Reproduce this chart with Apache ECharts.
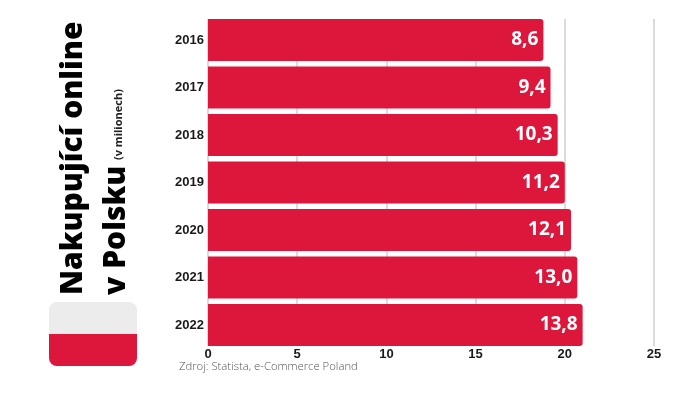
<!DOCTYPE html>
<html>
<head>
<meta charset="utf-8">
<style>html,body{margin:0;padding:0;background:#fff}#c{width:700px;height:394px}</style>
<script src="https://cdn.jsdelivr.net/npm/echarts@6/dist/echarts.min.js"></script>
</head>
<body>
<div id="c"></div>
<script>
const years = ['2016','2017','2018','2019','2020','2021','2022'];
const barLengths = [18.8,19.2,19.6,20.0,20.35,20.7,21.0];
const valueLabels = ['8,6','9,4','10,3','11,2','12,1','13,0','13,8'];
const titleLine1 = 'Nakupující online';
const titleLine2 = 'v Polsku';
const titleNote = '(v milionech)';
const sourceText = 'Zdroj: Statista, e-Commerce Poland';

const chart = echarts.init(document.getElementById('c'), null, {renderer:'canvas'});
const RED = '#DD163C';
chart.setOption({
  animation:false,
  backgroundColor:'#fff',
  grid:[
    {left:208,width:446,top:19,height:327},
    {left:208,width:446,top:16.25,height:332.5}
  ],
  xAxis:[
    {gridIndex:0,type:'value',min:0,max:25,interval:5,
     axisLine:{show:false},axisTick:{show:false},
     splitLine:{show:true,lineStyle:{color:'#cfcfcf',width:1.5}},
     axisLabel:{margin:2,fontFamily:'Liberation Sans',fontWeight:'bold',fontSize:13,color:'#1a1a1a'}},
    {gridIndex:1,type:'value',min:0,max:25,interval:5,show:false}
  ],
  yAxis:[
    {gridIndex:0,type:'category',data:years,inverse:true,show:false},
    {gridIndex:1,type:'category',data:years,inverse:true,
     axisLine:{show:false},axisTick:{show:false},
     axisLabel:{margin:4,fontFamily:'Liberation Sans',fontWeight:'bold',fontSize:13,color:'#1a1a1a'}}
  ],
  series:[{
    type:'bar',xAxisIndex:1,yAxisIndex:1,data:barLengths,
    barWidth:42,
    itemStyle:{color:RED,borderRadius:[0,3,3,0]},
    label:{show:true,position:'insideRight',distance:5,
      formatter:p=>valueLabels[p.dataIndex],
      fontFamily:'Open Sans',fontWeight:'bold',fontSize:19,color:'#fff'}
  }],
  graphic:[
    {type:'rect',shape:{x:49,y:302,width:88,height:64,r:8},style:{fill:'#ececec'}},
    {type:'rect',shape:{x:49,y:334,width:88,height:32,r:[0,0,8,8]},style:{fill:RED}},
    {type:'text',x:73,y:295,rotation:Math.PI/2,
     style:{text:titleLine1,textAlign:'left',textVerticalAlign:'middle',fill:'#000',font:'900 30px "Noto Sans"'}},
    {type:'text',x:116,y:295,rotation:Math.PI/2,
     style:{text:titleLine2,textAlign:'left',textVerticalAlign:'middle',fill:'#000',font:'900 30px "Noto Sans"'}},
    {type:'text',x:119,y:160,rotation:Math.PI/2,
     style:{text:titleNote,textAlign:'left',textVerticalAlign:'middle',fill:'#222',font:'bold 11px "Open Sans"'}},
    {type:'text',x:179,y:367,
     style:{text:sourceText,textAlign:'left',textVerticalAlign:'middle',fill:'#555',font:'300 11.3px "Open Sans"'}}
  ]
});
</script>
</body>
</html>
